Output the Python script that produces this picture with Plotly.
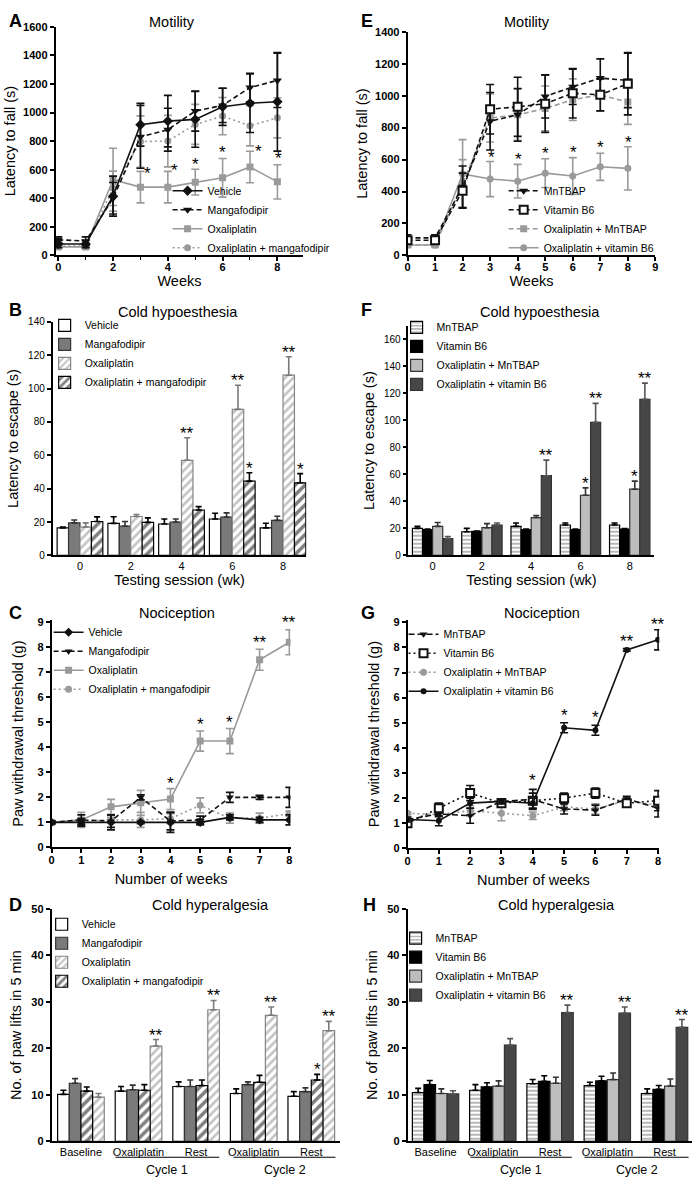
import plotly.graph_objects as go

W, H = 700, 1187
FONT = "Liberation Sans, Arial, Helvetica, sans-serif"
BLACK = "#111111"
GRAY = "#9a9a9a"

# ---------------- data ----------------
weeks = [0, 1, 2, 3, 4, 5, 6, 7, 8]
sessions = ["0", "2", "4", "6", "8"]
periods = ["Baseline", "Oxaliplatin", "Rest", "Oxaliplatin", "Rest"]

# A  Motility (latency to fall, s)
A_vehicle = [80, 80, 415, 915, 940, 952, 1040, 1065, 1075]
A_vehicle_err = [25, 25, 140, 150, 180, 195, 130, 205, 345]
A_manga = [110, 100, 400, 830, 880, 1010, 1050, 1175, 1225]
A_manga_err = [20, 30, 110, 220, 150, 140, 120, 100, 190]
A_oxa = [60, 60, 530, 478, 478, 513, 543, 619, 515]
A_oxa_err = [10, 10, 220, 110, 110, 90, 135, 110, 120]
A_oxam = [65, 65, 470, 797, 800, 917, 975, 907, 963]
A_oxam_err = [10, 10, 120, 180, 180, 140, 130, 140, 140]
A_star_x = [3.25, 4.25, 5.0, 6.0, 7.3, 8.05]
A_star_y = [575, 595, 635, 718, 730, 675]

# E  Motility
E_mntbap = [110, 110, 430, 840, 880, 995, 1055, 1110, 1095]
E_mntbap_err = [20, 20, 130, 180, 165, 135, 110, 120, 170]
E_b6 = [95, 95, 405, 915, 930, 950, 1015, 1005, 1075]
E_b6_err = [20, 25, 110, 155, 185, 180, 155, 100, 195]
E_oxmn = [65, 65, 450, 860, 880, 920, 975, 1005, 960]
E_oxmn_err = [10, 10, 150, 150, 160, 140, 130, 100, 140]
E_oxb6 = [65, 65, 510, 478, 465, 515, 497, 555, 545]
E_oxb6_err = [10, 10, 215, 110, 105, 90, 115, 85, 135]
E_star_x = [3.04, 4.02, 5.0, 6.03, 7.02, 8.02]
E_star_y = [616, 602, 637, 643, 674, 709]

# B  Cold hypoesthesia (latency to escape, s)
B_vehicle = [16.5, 19.2, 18.8, 21.8, 16.5]
B_vehicle_err = [0.5, 4.0, 3.0, 3.5, 2.8]
B_manga = [19.5, 17.5, 20.0, 23.0, 21.0]
B_manga_err = [1.7, 2.8, 1.8, 2.5, 2.5]
B_oxa = [17.0, 23.3, 57.0, 87.5, 108.0]
B_oxa_err = [2.5, 1.2, 13.5, 14.5, 11.0]
B_oxam = [20.3, 19.8, 27.2, 44.5, 43.5]
B_oxam_err = [2.8, 2.7, 2.0, 5.0, 5.5]

# F  Cold hypoesthesia
F_mntbap = [20.0, 17.5, 21.5, 22.5, 22.5]
F_mntbap_err = [1.5, 2.5, 2.5, 1.5, 1.5]
F_b6 = [19.0, 17.8, 19.0, 19.0, 19.5]
F_b6_err = [0.5, 0.3, 0.5, 0.5, 0.4]
F_oxmn = [21.5, 20.5, 28.0, 44.5, 49.0]
F_oxmn_err = [2.8, 3.0, 1.5, 5.5, 6.0]
F_oxb6 = [12.5, 22.5, 59.0, 98.5, 115.5]
F_oxb6_err = [1.5, 1.5, 11.5, 14.0, 12.0]

# C  Nociception (paw withdrawal threshold, g)
C_vehicle = [1.0, 1.0, 1.0, 1.0, 1.0, 1.0, 1.2, 1.1, 1.1]
C_vehicle_err = [0.05, 0.15, 0.3, 0.05, 0.4, 0.1, 0.1, 0.1, 0.2]
C_manga = [1.0, 1.1, 1.05, 2.0, 1.05, 1.1, 2.0, 2.0, 2.0]
C_manga_err = [0.05, 0.2, 0.25, 0.1, 0.35, 0.15, 0.2, 0.08, 0.4]
C_oxa = [1.0, 1.1, 1.62, 1.78, 1.93, 4.25, 4.25, 7.5, 8.2]
C_oxa_err = [0.05, 0.3, 0.3, 0.5, 0.42, 0.4, 0.5, 0.42, 0.5]
C_oxam = [1.0, 1.05, 1.1, 1.1, 1.15, 1.68, 1.17, 1.17, 1.35]
C_oxam_err = [0.05, 0.1, 0.1, 0.3, 0.2, 0.3, 0.2, 0.2, 0.1]
C_star_x = [4, 5, 6, 7, 8]
C_star_y = [2.57, 4.92, 4.99, 8.2, 8.98]
C_star_t = ["*", "*", "*", "**", "**"]

# G  Nociception
G_mntbap = [1.15, 1.37, 1.3, 1.87, 1.95, 1.57, 1.52, 1.97, 1.6]
G_mntbap_err = [0.05, 0.1, 0.3, 0.1, 0.4, 0.2, 0.2, 0.1, 0.35]
G_b6 = [1.0, 1.6, 2.2, 1.8, 1.9, 2.0, 2.2, 1.8, 1.9]
G_b6_err = [0.05, 0.2, 0.3, 0.15, 0.3, 0.2, 0.2, 0.1, 0.4]
G_oxmn = [1.4, 1.35, 1.5, 1.4, 1.3, 1.65, 1.57, 1.9, 1.72]
G_oxmn_err = [0.05, 0.1, 0.2, 0.3, 0.15, 0.15, 0.2, 0.1, 0.1]
G_oxb6 = [1.15, 1.1, 1.8, 1.87, 1.8, 4.8, 4.7, 7.9, 8.3]
G_oxb6_err = [0.1, 0.2, 0.2, 0.1, 0.2, 0.2, 0.2, 0.05, 0.4]
G_star_x = [4, 5, 6, 7, 8]
G_star_y = [2.69, 5.3, 5.21, 8.23, 8.92]
G_star_t = ["*", "*", "*", "**", "**"]

# D  Cold hyperalgesia (paw lifts in 5 min)
D_vehicle = [10.1, 10.8, 11.8, 10.3, 9.7]
D_vehicle_err = [0.9, 1.0, 1.0, 1.0, 1.0]
D_manga = [12.5, 11.1, 11.8, 12.2, 10.7]
D_manga_err = [1.0, 1.0, 1.4, 0.6, 0.8]
D_oxa = [9.5, 20.5, 28.3, 27.1, 23.8]
D_oxa_err = [0.8, 1.4, 2.0, 1.8, 2.0]
D_oxam = [10.8, 11.0, 12.0, 12.7, 13.2]
D_oxam_err = [0.9, 1.2, 1.2, 1.5, 1.2]

# H  Cold hyperalgesia
H_mntbap = [10.5, 11.0, 12.4, 12.0, 10.3]
H_mntbap_err = [0.9, 1.2, 0.9, 0.7, 1.0]
H_b6 = [12.2, 11.7, 12.9, 13.0, 11.2]
H_b6_err = [0.9, 0.9, 1.2, 1.0, 0.8]
H_oxmn = [10.3, 11.9, 12.5, 13.3, 11.9]
H_oxmn_err = [1.0, 1.1, 1.3, 1.4, 1.5]
H_oxb6 = [10.2, 20.7, 27.7, 27.6, 24.5]
H_oxb6_err = [0.7, 1.4, 1.6, 1.3, 1.7]

# ---------------- helpers ----------------
def px_x(p):
    return p / W


def px_y(p):
    return 1 - p / H


fig = go.Figure()
annotations = []
shapes = []


def ax_names(n):
    s = "" if n == 1 else str(n)
    return "x" + s, "y" + s


def line_trace(n, leg, rank, x, y, err, name, color, dash, symbol, msize,
               mfill=None, mlw=0):
    xa, ya = ax_names(n)
    fig.add_trace(go.Scatter(
        x=x, y=y, name=name, mode="lines+markers",
        line=dict(color=color, width=1.6, dash=dash),
        marker=dict(symbol=symbol, size=msize,
                    color=mfill if mfill is not None else color,
                    line=dict(color=color, width=mlw)),
        error_y=dict(type="data", array=err, visible=True, color=color,
                     thickness=1.6, width=4),
        xaxis=xa, yaxis=ya, legend=leg, legendrank=rank))


def bar_trace(n, leg, rank, vals, err, name, pos, gw, fill, lcolor,
              ecolor, pattern=None):
    xa, ya = ax_names(n)
    bw = gw / 4
    fig.add_trace(go.Bar(
        x=list(range(len(vals))), y=vals, name=name,
        width=bw, offset=-gw / 2 + pos * bw,
        marker=dict(color=fill, line=dict(color=lcolor, width=1.2),
                    pattern=pattern if pattern else dict(shape="")),
        error_y=dict(type="data", array=err, arrayminus=[0] * len(err),
                     symmetric=False, visible=True, color=ecolor,
                     thickness=1.6, width=3),
        xaxis=xa, yaxis=ya, legend=leg, legendrank=rank))


def star(n, x, y, text, yanchor="middle", yshift=0):
    xa, ya = ax_names(n)
    annotations.append(dict(x=x, y=y, xref=xa, yref=ya, text=text,
                            showarrow=False, yanchor=yanchor, yshift=yshift,
                            font=dict(size=17, family=FONT, color="black")))


def bar_star(n, cat, pos, gw, top, text):
    bw = gw / 4
    x = cat - gw / 2 + (pos + 0.5) * bw
    star(n, x, top, text, yanchor="bottom", yshift=-7)


def label(xp, yp, text, size, bold=False, xanchor="center"):
    annotations.append(dict(x=px_x(xp), y=px_y(yp), xref="paper", yref="paper",
                            text=text, showarrow=False, xanchor=xanchor,
                            yanchor="middle",
                            font=dict(size=size, family=FONT, color="black",
                                      weight="bold" if bold else "normal")))


HATCH_GRAY = dict(shape="/", fgcolor="#858585", bgcolor="white", size=6,
                  solidity=0.42)
HATCH_BLACK = dict(shape="/", fgcolor="black", bgcolor="white", size=7,
                   solidity=0.5)
STRIPE_H = dict(shape="-", fgcolor="black", bgcolor="white", size=4,
                solidity=0.28)
DASH = "5px,3px"
DOT = "2px,3px"

# ---------------- A ----------------
line_trace(1, "legend", 3, weeks, A_oxa, A_oxa_err, "Oxaliplatin", GRAY, "solid", "square", 7)
line_trace(1, "legend", 4, weeks, A_oxam, A_oxam_err, "Oxaliplatin + mangafodipir", GRAY, DOT, "circle", 7)
line_trace(1, "legend", 2, weeks, A_manga, A_manga_err, "Mangafodipir", BLACK, DASH, "triangle-down", 8)
line_trace(1, "legend", 1, weeks, A_vehicle, A_vehicle_err, "Vehicle", BLACK, "solid", "diamond", 8)
for x, y in zip(A_star_x, A_star_y):
    star(1, x, y, "*")

# ---------------- E ----------------
line_trace(5, "legend5", 3, weeks, E_oxmn, E_oxmn_err, "Oxaliplatin + MnTBAP", GRAY, DASH, "square", 7)
line_trace(5, "legend5", 4, weeks, E_oxb6, E_oxb6_err, "Oxaliplatin + vitamin B6", GRAY, "solid", "circle", 7)
line_trace(5, "legend5", 1, weeks, E_mntbap, E_mntbap_err, "MnTBAP", BLACK, DASH, "triangle-down", 8)
line_trace(5, "legend5", 2, weeks, E_b6, E_b6_err, "Vitamin B6", BLACK, DASH, "square", 8, mfill="white", mlw=2)
for x, y in zip(E_star_x, E_star_y):
    star(5, x, y, "*")

# ---------------- C ----------------
line_trace(3, "legend3", 3, weeks, C_oxa, C_oxa_err, "Oxaliplatin", GRAY, "solid", "square", 7)
line_trace(3, "legend3", 4, weeks, C_oxam, C_oxam_err, "Oxaliplatin + mangafodipir", GRAY, DOT, "circle", 7)
line_trace(3, "legend3", 2, weeks, C_manga, C_manga_err, "Mangafodipir", BLACK, DASH, "triangle-down", 7)
line_trace(3, "legend3", 1, weeks, C_vehicle, C_vehicle_err, "Vehicle", BLACK, "solid", "diamond", 7)
for x, y, t in zip(C_star_x, C_star_y, C_star_t):
    star(3, x, y, t)

# ---------------- G ----------------
line_trace(7, "legend7", 3, weeks, G_oxmn, G_oxmn_err, "Oxaliplatin + MnTBAP", GRAY, DOT, "circle", 7)
line_trace(7, "legend7", 1, weeks, G_mntbap, G_mntbap_err, "MnTBAP", BLACK, "6px,3px", "triangle-down", 7)
line_trace(7, "legend7", 2, weeks, G_b6, G_b6_err, "Vitamin B6", BLACK, DOT, "square", 8, mfill="white", mlw=2)
line_trace(7, "legend7", 4, weeks, G_oxb6, G_oxb6_err, "Oxaliplatin + vitamin B6", BLACK, "solid", "circle", 6)
for x, y, t in zip(G_star_x, G_star_y, G_star_t):
    star(7, x, y, t)

# ---------------- B ----------------
gB = 0.9
bar_trace(2, "legend2", 1, B_vehicle, B_vehicle_err, "Vehicle", 0, gB, "white", "black", "black")
bar_trace(2, "legend2", 2, B_manga, B_manga_err, "Mangafodipir", 1, gB, "#7a7a7a", "#333333", "#333333")
bar_trace(2, "legend2", 3, B_oxa, B_oxa_err, "Oxaliplatin", 2, gB, "white", "#858585", "#7a7a7a", HATCH_GRAY)
bar_trace(2, "legend2", 4, B_oxam, B_oxam_err, "Oxaliplatin + mangafodipir", 3, gB, "white", "black", "black", HATCH_BLACK)
for i in [2, 3, 4]:
    bar_star(2, i, 2, gB, B_oxa[i] + B_oxa_err[i], "**")
for i in [3, 4]:
    bar_star(2, i, 3, gB, B_oxam[i] + B_oxam_err[i], "*")

# ---------------- F ----------------
gF = 0.82
bar_trace(6, "legend6", 1, F_mntbap, F_mntbap_err, "MnTBAP", 0, gF, "white", "black", "black", STRIPE_H)
bar_trace(6, "legend6", 2, F_b6, F_b6_err, "Vitamin B6", 1, gF, "black", "black", "black")
bar_trace(6, "legend6", 3, F_oxmn, F_oxmn_err, "Oxaliplatin + MnTBAP", 2, gF, "#bdbdbd", "#333333", "#333333")
bar_trace(6, "legend6", 4, F_oxb6, F_oxb6_err, "Oxaliplatin + vitamin B6", 3, gF, "#474747", "#333333", "#555555")
for i in [2, 3, 4]:
    bar_star(6, i, 3, gF, F_oxb6[i] + F_oxb6_err[i], "**")
for i in [3, 4]:
    bar_star(6, i, 2, gF, F_oxmn[i] + F_oxmn_err[i], "*")

# ---------------- D ----------------
gD = 0.81
bar_trace(4, "legend4", 1, D_vehicle, D_vehicle_err, "Vehicle", 0, gD, "white", "black", "black")
bar_trace(4, "legend4", 2, D_manga, D_manga_err, "Mangafodipir", 1, gD, "#7a7a7a", "#333333", "#333333")
bar_trace(4, "legend4", 3, D_oxa, D_oxa_err, "Oxaliplatin", 3, gD, "white", "#858585", "#7a7a7a", HATCH_GRAY)
bar_trace(4, "legend4", 4, D_oxam, D_oxam_err, "Oxaliplatin + mangafodipir", 2, gD, "white", "black", "black", HATCH_BLACK)
for i in [1, 2, 3, 4]:
    bar_star(4, i, 3, gD, D_oxa[i] + D_oxa_err[i], "**")
bar_star(4, 4, 2, gD, D_oxam[4] + D_oxam_err[4], "*")

# ---------------- H ----------------
gH = 0.81
bar_trace(8, "legend8", 1, H_mntbap, H_mntbap_err, "MnTBAP", 0, gH, "white", "black", "black", STRIPE_H)
bar_trace(8, "legend8", 2, H_b6, H_b6_err, "Vitamin B6", 1, gH, "black", "black", "black")
bar_trace(8, "legend8", 3, H_oxmn, H_oxmn_err, "Oxaliplatin + MnTBAP", 2, gH, "#bdbdbd", "#333333", "#333333")
bar_trace(8, "legend8", 4, H_oxb6, H_oxb6_err, "Oxaliplatin + vitamin B6", 3, gH, "#474747", "#333333", "#555555")
for i in [2, 3, 4]:
    bar_star(8, i, 3, gH, H_oxb6[i] + H_oxb6_err[i], "**")

# ---------------- axes ----------------
common = dict(showline=True, linecolor="black", linewidth=1.6, ticks="outside",
              ticklen=4, tickwidth=1.5, tickcolor="black", showgrid=False,
              zeroline=False, fixedrange=True)
BOLD_TICK = dict(size=11, family=FONT, color="black", weight="bold")
REG_TICK = dict(size=10, family=FONT, color="black")
TITLE_FONT = dict(size=14.5, family=FONT, color="black")

layout_axes = {}


def set_axes(n, xdom, ydom, xrange, yrange, xkw, ykw):
    s = "" if n == 1 else str(n)
    xa = dict(common)
    xa.update(domain=[px_x(xdom[0]), px_x(xdom[1])], range=xrange,
              anchor="y" + s)
    xa.update(xkw)
    ya = dict(common)
    ya.update(domain=[px_y(ydom[1]), px_y(ydom[0])], range=yrange,
              anchor="x" + s)
    ya.update(ykw)
    layout_axes["xaxis" + s] = xa
    layout_axes["yaxis" + s] = ya


def ytitle(text, standoff):
    return dict(text=text, font=TITLE_FONT, standoff=standoff)


# A
set_axes(1, (53, 303), (21, 252), [-0.1, 8.95], [0, 1600],
         dict(tickvals=[0, 2, 4, 6, 8], tickfont=BOLD_TICK, ticklabelstandoff=-3,
              minor=dict(dtick=1, tick0=0, ticks="outside", ticklen=3, tickwidth=1.2, tickcolor="black"),
              title=dict(text="Weeks", font=TITLE_FONT, standoff=0)),
         dict(tickvals=list(range(0, 1601, 200)), tickfont=BOLD_TICK,
              title=ytitle("Latency to fall (s)", 4)))
# E
set_axes(5, (408, 658), (26, 252), [0, 9], [0, 1400],
         dict(tickvals=list(range(10)), tickfont=BOLD_TICK, ticklabelstandoff=-3,
              title=dict(text="Weeks", font=TITLE_FONT, standoff=0)),
         dict(tickvals=list(range(0, 1401, 200)), tickfont=BOLD_TICK,
              title=ytitle("Latency to fall (s)", 4)))
# B
set_axes(2, (50, 306), (319, 555), [-0.54, 4.46], [0, 140],
         dict(tickvals=list(range(5)), ticktext=sessions, ticks="",
              tickfont=dict(size=11, family=FONT, color="black"),
              title=dict(text="Testing session (wk)", font=TITLE_FONT, standoff=2)),
         dict(tickvals=list(range(0, 141, 20)), tickfont=REG_TICK,
              title=ytitle("Latency to escape (s)", 6)))
# F
set_axes(6, (409, 657), (323, 555), [-0.49, 4.5], [0, 170],
         dict(tickvals=list(range(5)), ticktext=sessions, ticks="",
              tickfont=dict(size=11, family=FONT, color="black"),
              title=dict(text="Testing session (wk)", font=TITLE_FONT, standoff=2)),
         dict(tickvals=list(range(0, 161, 20)), tickfont=REG_TICK,
              title=ytitle("Latency to escape (s)", 6)))
# C
set_axes(3, (49, 290), (620, 850), [0, 8.04], [0, 9.1],
         dict(tickvals=list(range(9)), tickfont=BOLD_TICK, ticklabelstandoff=-2,
              title=dict(text="Number of weeks", font=TITLE_FONT, standoff=8)),
         dict(tickvals=list(range(10)), tickfont=BOLD_TICK,
              title=ytitle("Paw withdrawal threshold (g)", 10)))
# G
set_axes(7, (408, 662), (620, 851), [0, 8.04], [0, 9.1],
         dict(tickvals=list(range(9)), tickfont=BOLD_TICK, ticklabelstandoff=-2,
              title=dict(text="Number of weeks", font=TITLE_FONT, standoff=8)),
         dict(tickvals=list(range(10)), tickfont=BOLD_TICK,
              title=ytitle("Paw withdrawal threshold (g)", 10)))
# D
set_axes(4, (49, 340), (912, 1147), [-0.51, 4.5], [0, 50],
         dict(tickvals=list(range(5)), ticktext=periods, ticks="",
              tickfont=dict(size=11, family=FONT, color="black")),
         dict(tickvals=list(range(0, 51, 10)), tickfont=BOLD_TICK,
              title=ytitle("No. of paw lifts in 5 min", 6)))
# H
set_axes(8, (408, 695), (912, 1147), [-0.49, 4.48], [0, 50],
         dict(tickvals=list(range(5)), ticktext=periods, ticks="",
              tickfont=dict(size=11, family=FONT, color="black")),
         dict(tickvals=list(range(0, 51, 10)), tickfont=BOLD_TICK,
              title=ytitle("No. of paw lifts in 5 min", 6)))

# cycle brackets for D and H
for xa, c1, c2 in [("x4", (0.6, 2.4), (2.65, 4.42)), ("x8", (0.61, 2.38), (2.6, 4.42))]:
    for (a, b), txt in [(c1, "Cycle 1"), (c2, "Cycle 2")]:
        shapes.append(dict(type="line", xref=xa, yref="paper", x0=a, x1=b,
                           y0=px_y(1163), y1=px_y(1163),
                           line=dict(color="black", width=1.2)))
        annotations.append(dict(x=(a + b) / 2, y=px_y(1176), xref=xa, yref="paper",
                                text=txt, showarrow=False, yanchor="middle",
                                font=dict(size=12.5, family=FONT, color="black")))

# panel titles and letters
for xp, yp, t in [(170, 16, "Motility"), (529, 16, "Motility"),
                  (177, 309, "Cold hypoesthesia"), (542, 309, "Cold hypoesthesia"),
                  (175, 613, "Nociception"), (544, 613, "Nociception"),
                  (209, 908, "Cold hyperalgesia"), (558, 908, "Cold hyperalgesia")]:
    label(xp, yp, t, 14.5)
for xp, yp, t in [(4, 15, "A"), (4, 307, "B"), (4, 613, "C"), (4, 908, "D"),
                  (359, 15, "E"), (359, 307, "F"), (359, 613, "G"), (361, 908, "H")]:
    label(xp, yp, t, 18, bold=True, xanchor="left")


def legend_at(xp, yp):
    return dict(x=px_x(xp), y=px_y(yp), xanchor="left", yanchor="top",
                bgcolor="rgba(0,0,0,0)", borderwidth=0, itemwidth=30,
                tracegroupgap=0,
                font=dict(size=10.5, family=FONT, color="black", weight="normal"))


fig.update_layout(
    width=W, height=H, margin=dict(l=0, r=0, t=0, b=0),
    paper_bgcolor="white", plot_bgcolor="white", barmode="overlay",
    font=dict(family=FONT, color="black"),
    showlegend=True,
    legend=legend_at(166, 172),
    legend5=legend_at(505, 172),
    legend3=legend_at(46, 618),
    legend7=legend_at(404, 620),
    legend2=legend_at(42, 308),
    legend6=legend_at(397, 310),
    legend4=legend_at(39, 913),
    legend8=legend_at(396, 927),
    annotations=annotations, shapes=shapes,
    **layout_axes,
)

fig.write_html("out.html")
